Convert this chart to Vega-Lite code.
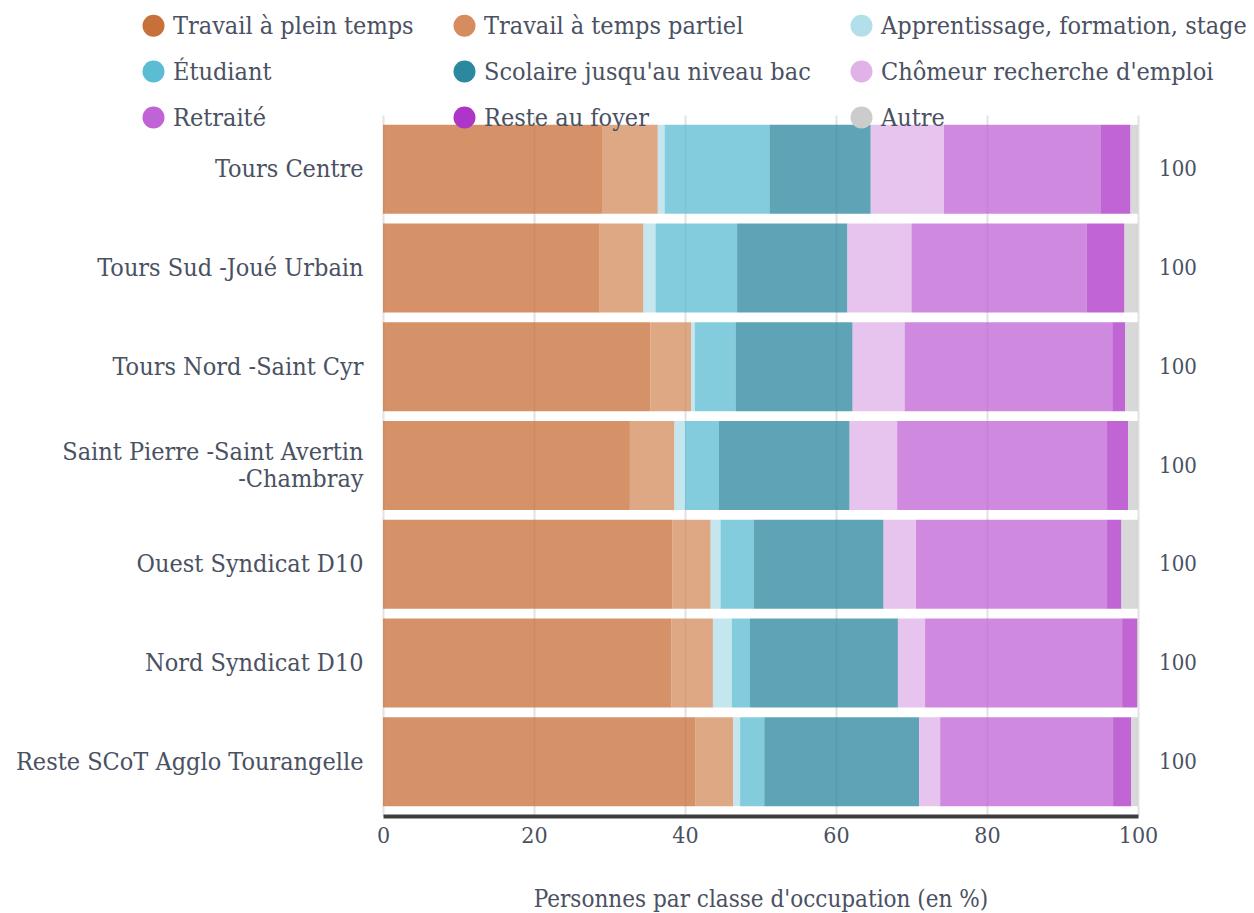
{
  "$schema": "https://vega.github.io/schema/vega-lite/v6.json",
  "width": 755,
  "height": 701,
  "autosize": {"type": "none"},
  "padding": {"left": 383, "top": 115, "right": 116, "bottom": 97},
  "background": "white",
  "config": {
    "view": {"stroke": null},
    "font": "DejaVu Serif Condensed",
    "legend": {
      "orient": "none",
      "direction": "horizontal",
      "legendX": -242,
      "legendY": -102,
      "columns": 3,
      "symbolType": "circle",
      "symbolSize": 484,
      "symbolOpacity": 1,
      "symbolStrokeWidth": 0,
      "labelFontSize": 25,
      "labelColor": "#4a5162",
      "labelOffset": 7,
      "columnPadding": 38,
      "rowPadding": 20,
      "labelLimit": 500,
      "title": null
    }
  },
  "data": {
    "values": [
      {"z": "Tours Centre", "c": "Travail à plein temps", "v": 29.1, "i": 1},
      {"z": "Tours Centre", "c": "Travail à temps partiel", "v": 7.3, "i": 2},
      {"z": "Tours Centre", "c": "Apprentissage, formation, stage", "v": 0.9, "i": 3},
      {"z": "Tours Centre", "c": "Étudiant", "v": 13.9, "i": 4},
      {"z": "Tours Centre", "c": "Scolaire jusqu'au niveau bac", "v": 13.4, "i": 5},
      {"z": "Tours Centre", "c": "Chômeur recherche d'emploi", "v": 9.7, "i": 6},
      {"z": "Tours Centre", "c": "Retraité", "v": 20.8, "i": 7},
      {"z": "Tours Centre", "c": "Reste au foyer", "v": 3.9, "i": 8},
      {"z": "Tours Centre", "c": "Autre", "v": 1.0, "i": 9},

      {"z": "Tours Sud -Joué Urbain", "c": "Travail à plein temps", "v": 28.7, "i": 1},
      {"z": "Tours Sud -Joué Urbain", "c": "Travail à temps partiel", "v": 5.8, "i": 2},
      {"z": "Tours Sud -Joué Urbain", "c": "Apprentissage, formation, stage", "v": 1.6, "i": 3},
      {"z": "Tours Sud -Joué Urbain", "c": "Étudiant", "v": 10.8, "i": 4},
      {"z": "Tours Sud -Joué Urbain", "c": "Scolaire jusqu'au niveau bac", "v": 14.6, "i": 5},
      {"z": "Tours Sud -Joué Urbain", "c": "Chômeur recherche d'emploi", "v": 8.5, "i": 6},
      {"z": "Tours Sud -Joué Urbain", "c": "Retraité", "v": 23.2, "i": 7},
      {"z": "Tours Sud -Joué Urbain", "c": "Reste au foyer", "v": 5.0, "i": 8},
      {"z": "Tours Sud -Joué Urbain", "c": "Autre", "v": 1.8, "i": 9},

      {"z": "Tours Nord -Saint Cyr", "c": "Travail à plein temps", "v": 35.4, "i": 1},
      {"z": "Tours Nord -Saint Cyr", "c": "Travail à temps partiel", "v": 5.4, "i": 2},
      {"z": "Tours Nord -Saint Cyr", "c": "Apprentissage, formation, stage", "v": 0.5, "i": 3},
      {"z": "Tours Nord -Saint Cyr", "c": "Étudiant", "v": 5.4, "i": 4},
      {"z": "Tours Nord -Saint Cyr", "c": "Scolaire jusqu'au niveau bac", "v": 15.5, "i": 5},
      {"z": "Tours Nord -Saint Cyr", "c": "Chômeur recherche d'emploi", "v": 6.9, "i": 6},
      {"z": "Tours Nord -Saint Cyr", "c": "Retraité", "v": 27.5, "i": 7},
      {"z": "Tours Nord -Saint Cyr", "c": "Reste au foyer", "v": 1.7, "i": 8},
      {"z": "Tours Nord -Saint Cyr", "c": "Autre", "v": 1.7, "i": 9},

      {"z": "Saint Pierre -Saint Avertin -Chambray", "c": "Travail à plein temps", "v": 32.7, "i": 1},
      {"z": "Saint Pierre -Saint Avertin -Chambray", "c": "Travail à temps partiel", "v": 5.9, "i": 2},
      {"z": "Saint Pierre -Saint Avertin -Chambray", "c": "Apprentissage, formation, stage", "v": 1.4, "i": 3},
      {"z": "Saint Pierre -Saint Avertin -Chambray", "c": "Étudiant", "v": 4.5, "i": 4},
      {"z": "Saint Pierre -Saint Avertin -Chambray", "c": "Scolaire jusqu'au niveau bac", "v": 17.3, "i": 5},
      {"z": "Saint Pierre -Saint Avertin -Chambray", "c": "Chômeur recherche d'emploi", "v": 6.3, "i": 6},
      {"z": "Saint Pierre -Saint Avertin -Chambray", "c": "Retraité", "v": 27.8, "i": 7},
      {"z": "Saint Pierre -Saint Avertin -Chambray", "c": "Reste au foyer", "v": 2.8, "i": 8},
      {"z": "Saint Pierre -Saint Avertin -Chambray", "c": "Autre", "v": 1.3, "i": 9},

      {"z": "Ouest Syndicat D10", "c": "Travail à plein temps", "v": 38.3, "i": 1},
      {"z": "Ouest Syndicat D10", "c": "Travail à temps partiel", "v": 5.1, "i": 2},
      {"z": "Ouest Syndicat D10", "c": "Apprentissage, formation, stage", "v": 1.3, "i": 3},
      {"z": "Ouest Syndicat D10", "c": "Étudiant", "v": 4.4, "i": 4},
      {"z": "Ouest Syndicat D10", "c": "Scolaire jusqu'au niveau bac", "v": 17.2, "i": 5},
      {"z": "Ouest Syndicat D10", "c": "Chômeur recherche d'emploi", "v": 4.3, "i": 6},
      {"z": "Ouest Syndicat D10", "c": "Retraité", "v": 25.3, "i": 7},
      {"z": "Ouest Syndicat D10", "c": "Reste au foyer", "v": 1.9, "i": 8},
      {"z": "Ouest Syndicat D10", "c": "Autre", "v": 2.2, "i": 9},

      {"z": "Nord Syndicat D10", "c": "Travail à plein temps", "v": 38.2, "i": 1},
      {"z": "Nord Syndicat D10", "c": "Travail à temps partiel", "v": 5.5, "i": 2},
      {"z": "Nord Syndicat D10", "c": "Apprentissage, formation, stage", "v": 2.5, "i": 3},
      {"z": "Nord Syndicat D10", "c": "Étudiant", "v": 2.4, "i": 4},
      {"z": "Nord Syndicat D10", "c": "Scolaire jusqu'au niveau bac", "v": 19.6, "i": 5},
      {"z": "Nord Syndicat D10", "c": "Chômeur recherche d'emploi", "v": 3.6, "i": 6},
      {"z": "Nord Syndicat D10", "c": "Retraité", "v": 26.1, "i": 7},
      {"z": "Nord Syndicat D10", "c": "Reste au foyer", "v": 2.0, "i": 8},
      {"z": "Nord Syndicat D10", "c": "Autre", "v": 0.1, "i": 9},

      {"z": "Reste SCoT Agglo Tourangelle", "c": "Travail à plein temps", "v": 41.4, "i": 1},
      {"z": "Reste SCoT Agglo Tourangelle", "c": "Travail à temps partiel", "v": 5.0, "i": 2},
      {"z": "Reste SCoT Agglo Tourangelle", "c": "Apprentissage, formation, stage", "v": 0.9, "i": 3},
      {"z": "Reste SCoT Agglo Tourangelle", "c": "Étudiant", "v": 3.2, "i": 4},
      {"z": "Reste SCoT Agglo Tourangelle", "c": "Scolaire jusqu'au niveau bac", "v": 20.5, "i": 5},
      {"z": "Reste SCoT Agglo Tourangelle", "c": "Chômeur recherche d'emploi", "v": 2.8, "i": 6},
      {"z": "Reste SCoT Agglo Tourangelle", "c": "Retraité", "v": 22.9, "i": 7},
      {"z": "Reste SCoT Agglo Tourangelle", "c": "Reste au foyer", "v": 2.4, "i": 8},
      {"z": "Reste SCoT Agglo Tourangelle", "c": "Autre", "v": 0.9, "i": 9}
    ]
  },
  "encoding": {
    "y": {
      "field": "z",
      "type": "nominal",
      "sort": ["Tours Centre", "Tours Sud -Joué Urbain", "Tours Nord -Saint Cyr", "Saint Pierre -Saint Avertin -Chambray", "Ouest Syndicat D10", "Nord Syndicat D10", "Reste SCoT Agglo Tourangelle"],
      "scale": {"paddingInner": 0.1, "paddingOuter": 0.1},
      "axis": {
        "title": null,
        "domain": false,
        "ticks": false,
        "labelFontSize": 25,
        "labelColor": "#4a5162",
        "labelPadding": 20,
        "labelLimit": 500,
        "labelLineHeight": 27,
        "labelOffset": {"condition": {"test": "datum.value == 'Saint Pierre -Saint Avertin -Chambray'", "value": -14}, "value": 0},
        "labelExpr": "datum.label == 'Saint Pierre -Saint Avertin -Chambray' ? ['Saint Pierre -Saint Avertin', '-Chambray'] : datum.label"
      }
    }
  },
  "layer": [
    {
      "mark": {"type": "bar", "opacity": 0.76},
      "encoding": {
        "x": {
          "field": "v",
          "type": "quantitative",
          "stack": "zero",
          "scale": {"domain": [0, 100], "nice": false},
          "axis": {
            "values": [0, 20, 40, 60, 80, 100],
            "grid": true,
            "gridColor": "#e2e2e2",
            "gridWidth": 2,
            "domain": true,
            "domainColor": "#3d3d3d",
            "domainWidth": 4,
            "ticks": false,
            "labelFlush": false,
            "labelFontSize": 23,
            "labelColor": "#4a5162",
            "labelPadding": 8,
            "title": "Personnes par classe d'occupation (en %)",
            "titleFontSize": 24,
            "titleFontWeight": "normal",
            "titleColor": "#4a5162",
            "titlePadding": 40
          }
        },
        "color": {
          "field": "c",
          "type": "nominal",
          "sort": ["Travail à plein temps", "Travail à temps partiel", "Apprentissage, formation, stage", "Étudiant", "Scolaire jusqu'au niveau bac", "Chômeur recherche d'emploi", "Retraité", "Reste au foyer", "Autre"],
          "scale": {
            "domain": ["Travail à plein temps", "Travail à temps partiel", "Apprentissage, formation, stage", "Étudiant", "Scolaire jusqu'au niveau bac", "Chômeur recherche d'emploi", "Retraité", "Reste au foyer", "Autre"],
            "range": ["#c8703a", "#d58d5f", "#b2dfea", "#5bbcd4", "#2b889f", "#e0b2e8", "#c064d5", "#ad35c8", "#cccccc"]
          }
        },
        "order": {"field": "i", "type": "quantitative"}
      }
    },
    {
      "mark": {"type": "text", "dx": 40, "align": "center", "baseline": "middle", "fontSize": 22, "color": "#4a5162"},
      "encoding": {
        "x": {"aggregate": "sum", "field": "v", "type": "quantitative", "title": "Personnes par classe d'occupation (en %)"},
        "text": {"aggregate": "sum", "field": "v", "type": "quantitative", "format": ".0f"}
      }
    }
  ]
}
